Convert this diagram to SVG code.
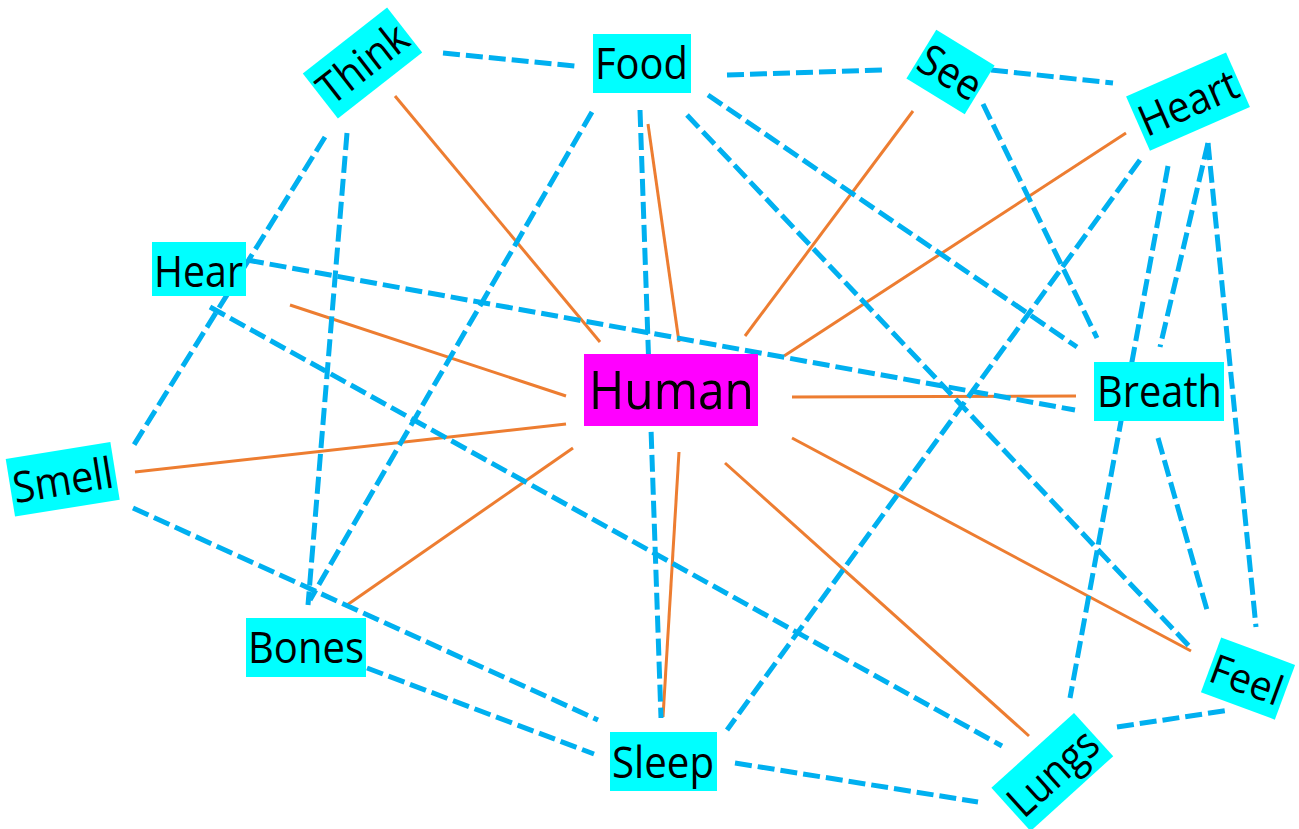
<svg xmlns="http://www.w3.org/2000/svg" width="1299" height="829" viewBox="0 0 1299 829">
<style>
.bg{fill:#ffffff}
.spoke{stroke:#ED7D31;stroke-width:3;fill:none}
.link{stroke:#00B0F0;stroke-width:5;stroke-dasharray:17 6;fill:none}
.box{fill:#00FFFF}
.hub{fill:#FF00FF}
.lbl{font-family:"Open Sans","Noto Sans","Liberation Sans",sans-serif;font-size:43px;fill:#000000}
.hlbl{font-family:"Open Sans","Noto Sans","Liberation Sans",sans-serif;font-size:53px;fill:#000000}
</style>
<rect class="bg" x="0" y="0" width="1299" height="829"/>
<g id="connectors">
  <line class="spoke" x1="395" y1="96" x2="600" y2="342"/>
  <line class="spoke" x1="648" y1="124" x2="679" y2="342"/>
  <line class="spoke" x1="913" y1="111" x2="745" y2="336"/>
  <line class="spoke" x1="1126" y1="133" x2="784" y2="356"/>
  <line class="spoke" x1="290" y1="305" x2="566" y2="396"/>
  <line class="spoke" x1="135" y1="472" x2="566" y2="424"/>
  <line class="spoke" x1="792" y1="397" x2="1076" y2="396"/>
  <line class="spoke" x1="347" y1="605" x2="573" y2="448"/>
  <line class="spoke" x1="663" y1="717" x2="679" y2="452"/>
  <line class="spoke" x1="1029" y1="736" x2="725" y2="463"/>
  <line class="spoke" x1="1191" y1="651" x2="792" y2="438"/>

  <line class="link" x1="443" y1="53" x2="575" y2="66"/>
  <line class="link" x1="727" y1="75" x2="882" y2="70"/>
  <line class="link" x1="991" y1="70" x2="1113" y2="83"/>
  <line class="link" x1="325" y1="137" x2="132" y2="448"/>
  <line class="link" x1="347" y1="133" x2="308" y2="605"/>
  <line class="link" x1="592" y1="112" x2="310" y2="600"/>
  <line class="link" x1="640" y1="110" x2="661" y2="718"/>
  <line class="link" x1="708" y1="95" x2="1077" y2="347"/>
  <line class="link" x1="687" y1="115" x2="1190" y2="647"/>
  <line class="link" x1="983" y1="104" x2="1097" y2="338"/>
  <line class="link" x1="1140" y1="160" x2="727" y2="730"/>
  <line class="link" x1="1168" y1="166" x2="1070" y2="698"/>
  <line class="link" x1="1208" y1="143" x2="1160" y2="347"/>
  <line class="link" x1="1208" y1="143" x2="1256" y2="627"/>
  <line class="link" x1="1158" y1="438" x2="1207" y2="610"/>
  <line class="link" x1="247" y1="260" x2="1075" y2="410"/>
  <line class="link" x1="210" y1="307" x2="1002" y2="746"/>
  <line class="link" x1="133" y1="508" x2="598" y2="720"/>
  <line class="link" x1="367" y1="668" x2="594" y2="754"/>
  <line class="link" x1="735" y1="763" x2="978" y2="802"/>
  <line class="link" x1="1117" y1="727" x2="1230" y2="710"/>
</g>
<g id="human">
  <rect class="hub" x="584" y="354" width="174" height="72"/>
  <text class="hlbl" x="589" y="409" textLength="165" lengthAdjust="spacingAndGlyphs">Human</text>
</g>
<g id="think" transform="translate(362.5,63) rotate(-38)">
  <rect class="box" x="-53.5" y="-28.5" width="107" height="57"/>
  <text class="lbl" x="0" y="15.5" text-anchor="middle" textLength="102" lengthAdjust="spacingAndGlyphs">Think</text>
</g>
<g id="food">
  <rect class="box" x="593" y="34" width="98" height="59"/>
  <text class="lbl" x="595" y="79" textLength="93" lengthAdjust="spacingAndGlyphs">Food</text>
</g>
<g id="see" transform="translate(950.5,72) rotate(31.5)">
  <rect class="box" x="-34.2" y="-28.6" width="68.4" height="57.2"/>
  <text class="lbl" x="0" y="15.5" text-anchor="middle" textLength="66" lengthAdjust="spacingAndGlyphs">See</text>
</g>
<g id="heart" transform="translate(1188,101.7) rotate(-23.7)">
  <rect class="box" x="-54.6" y="-29.7" width="109.2" height="59.4"/>
  <text class="lbl" x="0" y="16" text-anchor="middle" textLength="104" lengthAdjust="spacingAndGlyphs">Heart</text>
</g>
<g id="hear">
  <rect class="box" x="152" y="242" width="94" height="54"/>
  <text class="lbl" x="154" y="287" textLength="89" lengthAdjust="spacingAndGlyphs">Hear</text>
</g>
<g id="smell" transform="translate(62.7,479.3) rotate(-9.2)">
  <rect class="box" x="-53" y="-29.2" width="106" height="58.4"/>
  <text class="lbl" x="0" y="16" text-anchor="middle" textLength="101" lengthAdjust="spacingAndGlyphs">Smell</text>
</g>
<g id="breath">
  <rect class="box" x="1094" y="362" width="130" height="59"/>
  <text class="lbl" x="1097" y="407" textLength="125" lengthAdjust="spacingAndGlyphs">Breath</text>
</g>
<g id="bones">
  <rect class="box" x="246" y="618" width="120" height="59"/>
  <text class="lbl" x="248" y="663" textLength="116" lengthAdjust="spacingAndGlyphs">Bones</text>
</g>
<g id="sleep">
  <rect class="box" x="610" y="732" width="107" height="59"/>
  <text class="lbl" x="612" y="778" textLength="102" lengthAdjust="spacingAndGlyphs">Sleep</text>
</g>
<g id="feel" transform="translate(1248,678.6) rotate(20.3)">
  <rect class="box" x="-39.4" y="-29.2" width="78.8" height="58.4"/>
  <text class="lbl" x="-1" y="16" text-anchor="middle" textLength="74" lengthAdjust="spacingAndGlyphs" style="font-size:41px">Feel</text>
</g>
<g id="lungs" transform="translate(1052.3,772) rotate(-42.2)">
  <rect class="box" x="-55.8" y="-29.2" width="111.6" height="58.4"/>
  <text class="lbl" x="0" y="16" text-anchor="middle" textLength="106" lengthAdjust="spacingAndGlyphs">Lungs</text>
</g>
</svg>
